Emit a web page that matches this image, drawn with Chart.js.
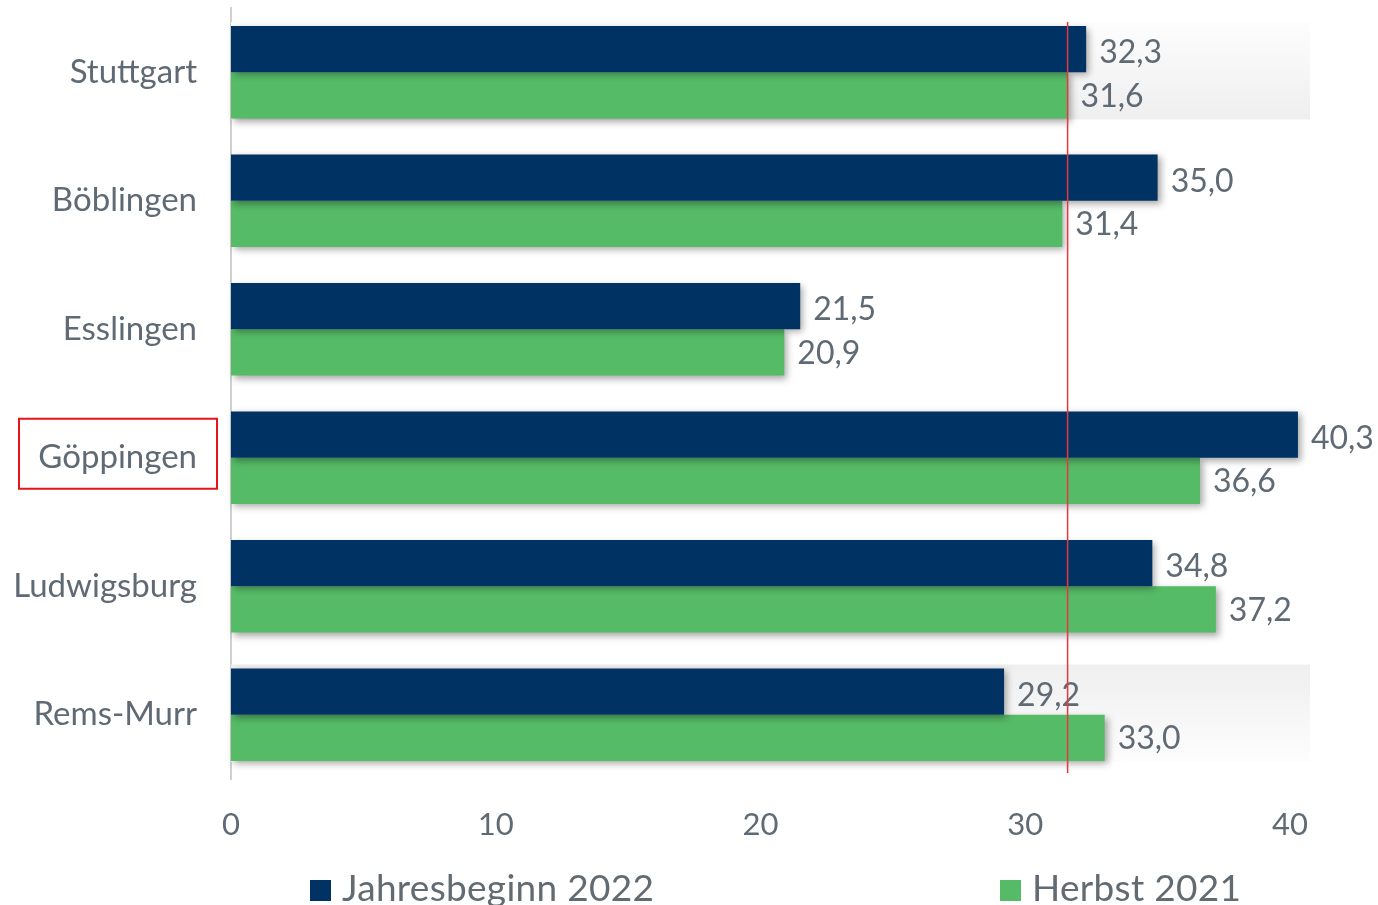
<!DOCTYPE html>
<html>
<head>
<meta charset="utf-8">
<script src="https://cdn.jsdelivr.net/npm/chart.js@4/dist/chart.umd.min.js"></script>
<style>
  body { margin: 0; background: #fff; }
  #wrap { position: relative; width: 1378px; height: 905px; }
  #legend { position: absolute; left: 0; top: 864px; width: 1378px; height: 40px;
    font-family: Lato, "Open Sans", sans-serif; font-size: 37px; color: #636b72; letter-spacing: 0.3px; }
  .item { position: absolute; top: 0; white-space: nowrap; }
  .box { display: inline-block; width: 21px; height: 21px; margin-right: 11px; vertical-align: 0px; }
</style>
</head>
<body>
<div id="wrap">
  <canvas id="myChart" width="1378" height="905"></canvas>
  <div id="legend"></div>
</div>
<script>
var categories = ["Stuttgart", "Böblingen", "Esslingen", "Göppingen", "Ludwigsburg", "Rems-Murr"];
var seriesNames = ["Jahresbeginn 2022", "Herbst 2021"];
var jahresbeginn = [32.3, 35.0, 21.5, 40.3, 34.8, 29.2];
var herbst = [31.6, 31.4, 20.9, 36.6, 37.2, 33.0];
var xTicks = [0, 10, 20, 30, 40];
var referenceValue = 31.6;
var highlighted = "Göppingen";
var bandRows = ["Stuttgart", "Rems-Murr"];

var colors = ["#003263", "#55bb66"];
var textColor = "#5f6a74";
var labelFont = "Lato, 'Open Sans', sans-serif";

// grey gradient bands behind some rows
var bandsPlugin = {
    id: 'bands',
    beforeDatasetsDraw: function (chart) {
        var ctx = chart.ctx;
        var x = chart.scales.x;
        bandRows.forEach(function (name, k) {
            var i = categories.indexOf(name);
            var b0 = chart.getDatasetMeta(0).data[i];
            var b1 = chart.getDatasetMeta(1).data[i];
            var top = b0.y - b0.height / 2 - 4;
            var bottom = b1.y + b1.height / 2 + 1;
            var g = ctx.createLinearGradient(0, top, 0, bottom);
            if (k == 0) {
                g.addColorStop(0, "#fdfdfd");
                g.addColorStop(1, "#efefef");
            } else {
                g.addColorStop(0, "#efefef");
                g.addColorStop(1, "#fdfdfd");
            }
            ctx.save();
            ctx.fillStyle = g;
            ctx.fillRect(x.left, top, x.right + 20 - x.left, bottom - top);
            ctx.restore();
        });
        // shadow for the bars
        ctx.save();
        ctx.shadowColor = "rgba(0,0,0,0.35)";
        ctx.shadowBlur = 7;
        ctx.shadowOffsetX = 3;
        ctx.shadowOffsetY = 3;
    },
    afterDatasetsDraw: function (chart) {
        var ctx = chart.ctx;
        ctx.restore();
        // value labels
        ctx.save();
        ctx.font = "32px " + labelFont;
        ctx.fillStyle = textColor;
        ctx.textBaseline = "middle";
        ctx.textAlign = "left";
        chart.data.datasets.forEach(function (ds, d) {
            chart.getDatasetMeta(d).data.forEach(function (bar, i) {
                var txt = ds.data[i].toFixed(1).replace(".", ",");
                ctx.fillText(txt, bar.x + 13, bar.y + (d == 0 ? 4 : 1));
            });
        });
        // reference line
        var xs = chart.scales.x;
        var px = xs.getPixelForValue(referenceValue);
        ctx.strokeStyle = "#e8383d";
        ctx.lineWidth = 1.5;
        ctx.beginPath();
        ctx.moveTo(px, chart.chartArea.top + 14);
        ctx.lineTo(px, chart.chartArea.bottom - 6);
        ctx.stroke();
        // red box around highlighted label
        var yp = chart.scales.y.getPixelForValue(categories.indexOf(highlighted));
        ctx.strokeStyle = "#e8141c";
        ctx.lineWidth = 2;
        ctx.strokeRect(19, yp - 39, 198, 70);
        ctx.restore();
    }
};

var ctx = document.getElementById("myChart");
var myChart = new Chart(ctx, {
    type: 'bar',
    data: {
        labels: categories,
        datasets: [{
            label: seriesNames[0],
            data: jahresbeginn,
            backgroundColor: colors[0]
        }, {
            label: seriesNames[1],
            data: herbst,
            backgroundColor: colors[1]
        }]
    },
    options: {
        indexAxis: 'y',
        responsive: false,
        animation: false,
        clip: false,
        layout: { padding: { top: 8, right: 88, bottom: 46, left: 0 } },
        datasets: { bar: { categoryPercentage: 0.72, barPercentage: 1.0 } },
        scales: {
            x: {
                min: 0,
                max: 40,
                afterBuildTicks: function (axis) {
                    axis.ticks = xTicks.map(function (v) { return { value: v }; });
                },
                grid: { display: false, drawTicks: false },
                border: { display: false },
                ticks: { color: textColor, font: { size: 31, family: labelFont }, padding: 27 },
                afterFit: function (axis) {
                    axis.height = 80;
                    axis.paddingLeft = 0;
                    axis.paddingRight = 0;
                }
            },
            y: {
                grid: { display: false, drawTicks: false },
                border: { display: true, color: "#d0d0d0", width: 2 },
                ticks: { color: textColor, font: { size: 33, family: labelFont }, padding: 34 },
                afterFit: function (axis) {
                    axis.width = 231;
                    axis.paddingTop = 0;
                    axis.paddingBottom = 0;
                }
            }
        },
        plugins: {
            legend: { display: false },
            tooltip: { enabled: false }
        }
    },
    plugins: [bandsPlugin]
});

// legend as html, from the series arrays
var legendPos = [310, 1000];
var legendEl = document.getElementById("legend");
seriesNames.forEach(function (name, i) {
    var div = document.createElement("div");
    div.className = "item";
    div.style.left = legendPos[i] + "px";
    div.innerHTML = '<span class="box" style="background:' + colors[i] + '"></span>' + name;
    legendEl.appendChild(div);
});
</script>
</body>
</html>
